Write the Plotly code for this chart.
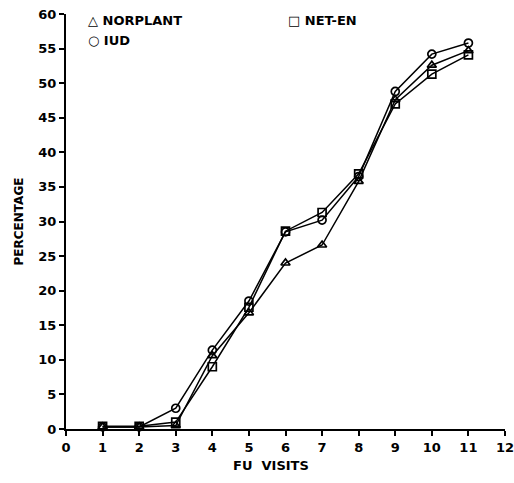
import plotly.graph_objects as go

visits = [1, 2, 3, 4, 5, 6, 7, 8, 9, 10, 11]
norplant = [0.3, 0.3, 0.5, 10.6, 16.8, 24.0, 26.6, 35.8, 47.6, 52.6, 54.7]
iud = [0.3, 0.3, 3.0, 11.4, 18.5, 28.5, 30.2, 36.5, 48.8, 54.2, 55.8]
net_en = [0.4, 0.4, 1.0, 9.0, 17.6, 28.6, 31.3, 36.9, 47.0, 51.3, 54.1]

x_ticks = list(range(0, 13))
y_ticks = list(range(0, 61, 5))

font = dict(family="DejaVu Sans", size=13, color="black", weight="bold")

fig = go.Figure()
series = [
    ("NORPLANT", norplant, "triangle-up-open"),
    ("IUD", iud, "circle-open"),
    ("NET-EN", net_en, "square-open"),
]
for name, vals, sym in series:
    fig.add_trace(go.Scatter(
        x=visits, y=vals, name=name, mode="lines+markers",
        line=dict(color="black", width=1.5),
        marker=dict(symbol=sym, size=8, color="black", line=dict(width=1.7, color="black")),
        showlegend=False,
        cliponaxis=False,
    ))

fig.update_layout(
    width=514, height=483,
    margin=dict(l=66, r=9, t=14, b=54),
    paper_bgcolor="white", plot_bgcolor="white",
    font=font,
    xaxis=dict(range=[0, 12], tickvals=x_ticks, ticks="outside", ticklen=5,
               tickwidth=1.5, tickcolor="black", automargin=False,
               ticklabeloverflow="allow",
               showline=True, linecolor="black", linewidth=2, showgrid=False,
               zeroline=False, tickfont=font),
    yaxis=dict(range=[0, 60], tickvals=y_ticks, ticks="outside", ticklen=5,
               tickwidth=1.5, tickcolor="black", automargin=False,
               ticklabeloverflow="allow",
               showline=True, linecolor="black", linewidth=2, showgrid=False,
               zeroline=False, title=dict(text="PERCENTAGE", standoff=12, font=dict(size=12)),
               tickfont=font),
)

fig.add_annotation(text="FU  VISITS", xref="paper", yref="paper", x=0.467, y=-0.087,
                   xanchor="center", yanchor="middle", showarrow=False,
                   font=dict(family="DejaVu Sans", size=13, color="black", weight="bold"))

legend_items = [
    ("△ NORPLANT", 0.045, 0.985),
    ("○ IUD", 0.045, 0.937),
    ("□ NET-EN", 0.5, 0.985),
]
for txt, xx, yy in legend_items:
    fig.add_annotation(text=txt, xref="paper", yref="paper", x=xx, y=yy,
                       xanchor="left", yanchor="middle", showarrow=False,
                       font=dict(family="DejaVu Sans", size=13, color="black", weight="bold"))

fig.write_html("out.html")
